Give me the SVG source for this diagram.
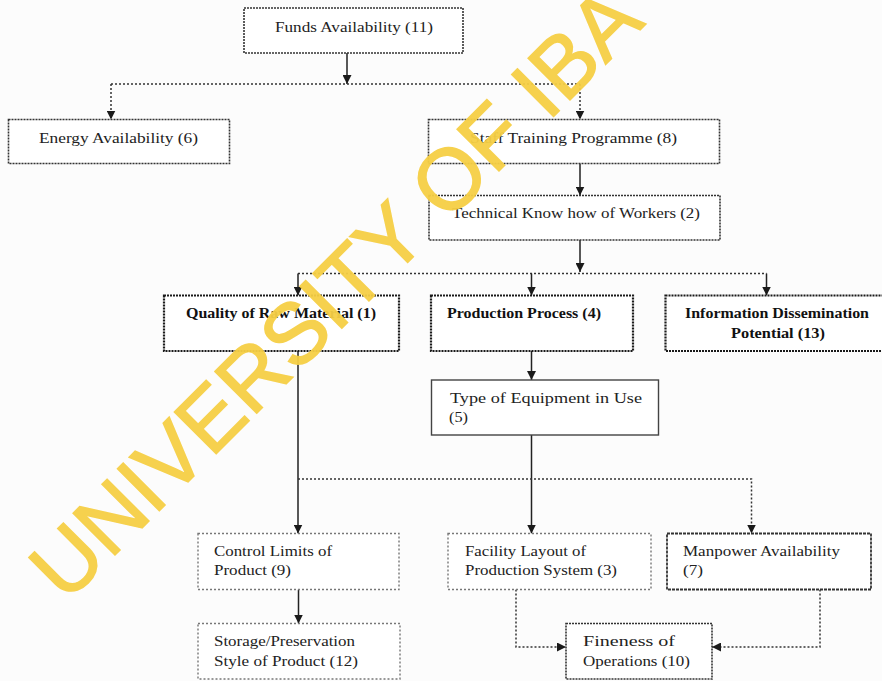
<svg xmlns="http://www.w3.org/2000/svg" width="882" height="681" viewBox="0 0 882 681">
<defs>
<marker id="ah" viewBox="0 0 10 10" refX="10" refY="5" markerWidth="9" markerHeight="9" markerUnits="userSpaceOnUse" orient="auto">
<path d="M0,0 L10,5 L0,10 z" fill="#1a1a1a"/>
</marker>
<style>
.t{font-family:"Liberation Serif","Times New Roman",serif;font-size:15px;fill:#222;}
.b{font-weight:bold;fill:#111;}
.bx1{fill:#fff;stroke:#333;stroke-width:1.6;stroke-dasharray:2 1;}
.bx2{fill:#fff;stroke:#1a1a1a;stroke-width:2.2;stroke-dasharray:2 1;}
.bx3{fill:#fff;stroke:#444;stroke-width:1.4;}
.bx4{fill:#fff;stroke:#777;stroke-width:1.4;stroke-dasharray:2 2;}
.bx5{fill:#fff;stroke:#333;stroke-width:1.8;stroke-dasharray:3 1;}
.s{fill:none;stroke:#222;stroke-width:1.5;}
.d{fill:none;stroke:#333;stroke-width:1.5;stroke-dasharray:2 2;}
.wm{font-family:"Liberation Sans",Arial,sans-serif;font-size:86px;fill:#f6cf45;stroke:#f6cf45;stroke-width:1.5;opacity:0.95;}
</style>
</defs>
<rect x="0" y="0" width="882" height="681" fill="#fcfcfc"/>
<g id="connectors">
<line class="s" x1="347" y1="53" x2="347" y2="84" marker-end="url(#ah)"/>
<line class="d" x1="111" y1="84" x2="580" y2="84"/>
<line class="d" x1="111" y1="84" x2="111" y2="119.5" marker-end="url(#ah)"/>
<line class="d" x1="580" y1="84" x2="580" y2="119.5" marker-end="url(#ah)"/>
<line class="s" x1="580" y1="163.5" x2="580" y2="195.5" marker-end="url(#ah)"/>
<line class="s" x1="580" y1="240" x2="580" y2="272" marker-end="url(#ah)"/>
<line class="d" x1="298" y1="273.5" x2="766.5" y2="273.5"/>
<line class="s" x1="298" y1="273.5" x2="298" y2="295.5" marker-end="url(#ah)"/>
<line class="s" x1="531.5" y1="273.5" x2="531.5" y2="295.5" marker-end="url(#ah)"/>
<line class="s" x1="766.5" y1="273.5" x2="766.5" y2="295.5" marker-end="url(#ah)"/>
<line class="s" x1="531.5" y1="351" x2="531.5" y2="380" marker-end="url(#ah)"/>
<line class="s" x1="531.5" y1="435" x2="531.5" y2="533.5" marker-end="url(#ah)"/>
<line class="s" x1="298" y1="351" x2="298" y2="533.5" marker-end="url(#ah)"/>
<polyline class="d" points="298,479 751.5,479 751.5,533.5" marker-end="url(#ah)"/>
<line class="s" x1="298.5" y1="589.5" x2="298.5" y2="623.5" marker-end="url(#ah)"/>
<polyline class="d" points="516,589.5 516,647 566,647" marker-end="url(#ah)"/>
<polyline class="d" points="820,589.5 820,647 712,647" marker-end="url(#ah)"/>
</g>
<g id="n11"><rect class="bx1" x="244" y="8" width="219" height="45"/><text class="t" x="275" y="32" textLength="158" lengthAdjust="spacingAndGlyphs">Funds Availability (11)</text></g>
<g id="n6"><rect class="bx1" x="8.5" y="119.5" width="221" height="44"/><text class="t" x="39" y="143" textLength="159" lengthAdjust="spacingAndGlyphs">Energy Availability (6)</text></g>
<g id="n8"><rect class="bx1" x="428.5" y="119.5" width="291" height="44"/><text class="t" x="470" y="143" textLength="207" lengthAdjust="spacingAndGlyphs">Staff Training Programme (8)</text></g>
<g id="n2"><rect class="bx1" x="429" y="195.5" width="291" height="44.5"/><text class="t" x="452" y="218" textLength="248" lengthAdjust="spacingAndGlyphs">Technical Know how of Workers (2)</text></g>
<g id="n1"><rect class="bx2" x="164" y="295.5" width="235" height="55.5"/><text class="t b" x="186" y="318" textLength="190" lengthAdjust="spacingAndGlyphs">Quality of Raw Material (1)</text></g>
<g id="n4"><rect class="bx2" x="431" y="295.5" width="202" height="55.5"/><text class="t b" x="447" y="318" textLength="154" lengthAdjust="spacingAndGlyphs">Production Process (4)</text></g>
<g id="n13"><rect class="bx2" x="665.5" y="295.5" width="218" height="55.5"/><text class="t b" x="685" y="318" textLength="184" lengthAdjust="spacingAndGlyphs">Information Dissemination</text><text class="t b" x="731" y="338" textLength="94" lengthAdjust="spacingAndGlyphs">Potential (13)</text></g>
<g id="n5"><rect class="bx3" x="431.5" y="380" width="227" height="55"/><text class="t" x="450" y="403" textLength="192" lengthAdjust="spacingAndGlyphs">Type of Equipment in Use</text><text class="t" x="449" y="422" textLength="19" lengthAdjust="spacingAndGlyphs">(5)</text></g>
<g id="n9"><rect class="bx4" x="198" y="533.5" width="201" height="56"/><text class="t" x="214" y="556" textLength="118" lengthAdjust="spacingAndGlyphs">Control Limits of</text><text class="t" x="214" y="575" textLength="77" lengthAdjust="spacingAndGlyphs">Product (9)</text></g>
<g id="n3"><rect class="bx4" x="448" y="533.5" width="203" height="56"/><text class="t" x="465" y="556" textLength="121" lengthAdjust="spacingAndGlyphs">Facility Layout of</text><text class="t" x="465" y="575" textLength="152" lengthAdjust="spacingAndGlyphs">Production System (3)</text></g>
<g id="n7"><rect class="bx5" x="667" y="533.5" width="204" height="56"/><text class="t" x="683" y="556" textLength="157" lengthAdjust="spacingAndGlyphs">Manpower Availability</text><text class="t" x="683" y="575" textLength="20" lengthAdjust="spacingAndGlyphs">(7)</text></g>
<g id="n12"><rect class="bx4" x="198" y="623.5" width="202" height="55.5"/><text class="t" x="214" y="646" textLength="141" lengthAdjust="spacingAndGlyphs">Storage/Preservation</text><text class="t" x="214" y="666" textLength="144" lengthAdjust="spacingAndGlyphs">Style of Product (12)</text></g>
<g id="n10"><rect class="bx1" x="566" y="623.5" width="146" height="55.5"/><text class="t" x="583" y="646" textLength="92" lengthAdjust="spacingAndGlyphs">Fineness of</text><text class="t" x="583" y="666" textLength="107" lengthAdjust="spacingAndGlyphs">Operations (10)</text></g>
<text class="wm" transform="translate(66,604) rotate(-45)">UNIVERSITY OF IBA</text>
</svg>
